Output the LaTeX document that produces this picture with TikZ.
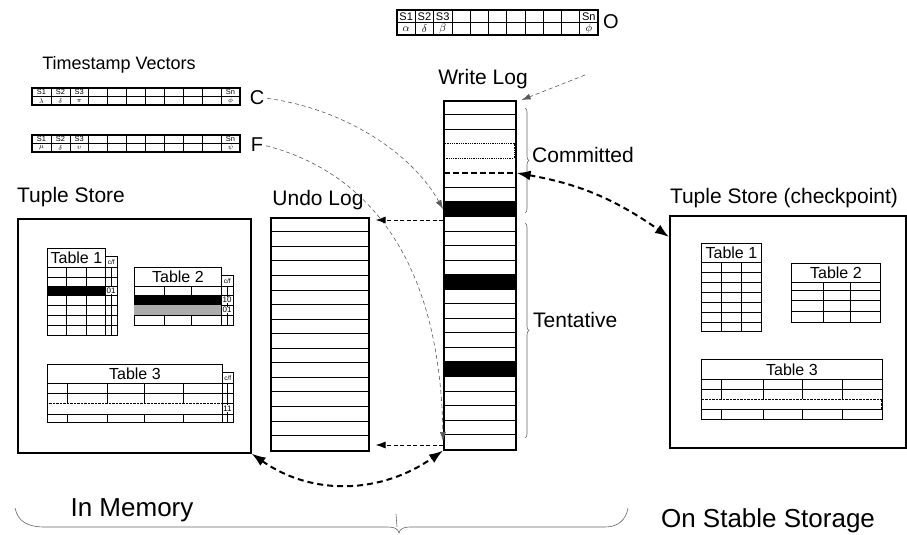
\documentclass[tikz,border=0pt]{standalone}
\usepackage{fontspec}
\setmainfont{Liberation Sans}
\usetikzlibrary{arrows.meta,decorations.pathreplacing}

\newcommand\fs[1]{\fontsize{#1}{#1}\selectfont}

\tikzset{
  box frame/.style={draw, line width=1.6pt, inner sep=0pt},
  grid line/.style={line width=0.6pt},
  tab frame/.style={draw, line width=0.8pt},
  tab head/.style={draw, line width=0.8pt, inner sep=0pt, anchor=north west, font=\fs{16}},
  cf head/.style={draw, line width=0.6pt, inner sep=0pt, anchor=north west, font=\fs{6.5}},
  cf bit/.style={inner sep=0.3pt, fill=white, font=\fs{8}},
  title/.style={inner sep=0pt, font=\fs{21}},
  big title/.style={inner sep=0pt, font=\fs{26}},
  vec name/.style={inner sep=0pt, font=\fs{20}},
  thin link/.style={gray!70!black, line width=0.6pt, dash pattern=on 4pt off 3pt, -{Latex[length=9pt,width=6pt]}},
  copy link/.style={line width=0.9pt, dash pattern=on 4pt off 2.5pt, -{Latex[length=10pt,width=7pt]}, shorten >=6pt},
  swap link/.style={line width=2pt, dash pattern=on 6pt off 4pt, {Latex[length=14pt,width=10pt]}-{Latex[length=14pt,width=10pt]}},
  brace line/.style={gray!80!black, line width=0.6pt},
}

% one timestamp vector: name, x, y, width, height, four entries
\newcommand\tsvec[9]{%
  \pgfmathsetmacro\vfs{0.45*#5-0.2}
  \draw[line width=1.4pt] (#2,#3) rectangle ++(#4,#5);
  \draw[grid line] (#2,#3+#5/2) -- ++(#4,0);
  \foreach \i in {1,...,10}
    \draw[grid line] ({#2+\i*#4/11},#3) -- ++(0,#5);
  \foreach \s/\g [count=\i] in {S1/#6,S2/#7,S3/#8,Sn/#9} {
    \pgfmathsetmacro\col{\i<4 ? \i : 11}
    \node[inner sep=0pt, font=\fs{\vfs}] (#1s\i) at ({#2+(\col-0.5)*#4/11},{#3+#5/4}) {\s};
    \node[inner sep=0pt, font=\fs{\vfs}] (#1g\i) at ({#2+(\col-0.5)*#4/11},{#3+3*#5/4+0.4}) {$\g$};
  }
}

% table body: x left, x right, y top, y bottom, row lines, column lines
\newcommand\tabbody[6]{%
  \draw[tab frame] (#1,#3) rectangle (#2,#4);
  \foreach \y in {#5} \draw[grid line] (#1,\y) -- (#2,\y);
  \foreach \x in {#6} \draw[grid line] (\x,#3) -- (\x,#4);
}

\begin{document}
\begin{tikzpicture}[x=1pt,y=-1pt]
\useasboundingbox (0,0) rectangle (907,535);

% timestamp vectors
\tsvec{ov}{397}{10}{201}{25}{\alpha}{\delta}{\beta}{\phi}
\node[vec name] (labO) at (611,22) {O};
\node[inner sep=0pt, font=\fs{18}] (tsv) at (119,65) {Timestamp Vectors};
\tsvec{cv}{32}{88}{208}{17}{\lambda}{\delta}{\pi}{\phi}
\node[vec name] (labC) at (257,98) {C};
\tsvec{fv}{32}{135}{208}{17}{\mu}{\delta}{\upsilon}{\psi}
\node[vec name] (labF) at (257,145) {F};

% tuple store in memory
\node[title] (mtstitle) at (71,197) {Tuple Store};
\node[box frame, minimum width=233, minimum height=234, anchor=north west] (mts) at (17,218) {};

\node[tab head, minimum width=58, minimum height=19] (mt1) at (47,248) {Table 1};
\node[cf head, minimum width=12, minimum height=11] (mt1cf) at (105,256) {c/f};
\tabbody{47}{105}{267}{335}{277,286,295,305,315,325}{66,86}
\tabbody{105}{117}{267}{335}{277,286,295,305,315,325}{111}
\fill (47,286) rectangle (105,295);
\node[cf bit] (mt1b) at (111,290.5) {01};

\node[tab head, minimum width=87, minimum height=19] (mt2) at (134,267) {Table 2};
\node[cf head, minimum width=12, minimum height=11] (mt2cf) at (221,275) {c/f};
\tabbody{134}{221}{286}{325}{295,305,315}{164,191}
\tabbody{221}{233}{286}{325}{295,305,315}{227}
\fill (134,295) rectangle (221,305);
\fill[gray!65] (134,305) rectangle (221,315);
\node[cf bit] (mt2a) at (227,300) {10};
\node[cf bit] (mt2b) at (227,310) {01};

\node[tab head, minimum width=175, minimum height=19] (mt3) at (47,364) {Table 3};
\node[cf head, minimum width=11, minimum height=11] (mt3cf) at (222,372) {c/f};
\tabbody{47}{222}{383}{422}{393,403,414}{67,107,144,183}
\tabbody{222}{233}{383}{422}{393,403,414}{227.5}
\draw[densely dotted, fill=white] (47.5,403) rectangle (222,414);
\node[cf bit] (mt3b) at (227.5,408.5) {11};

% undo log
\node[title] (ultitle) at (318,200) {Undo Log};
\node[box frame, minimum width=98, minimum height=233, anchor=north west] (ulog) at (270,217) {};
\foreach \k in {1,...,15}
  \draw[grid line] (270,217+\k*233/16) -- (368,217+\k*233/16);

% write log
\node[title] (wltitle) at (483,79) {Write Log};
\node[box frame, minimum width=72, minimum height=349, anchor=north west] (wlog) at (443,100) {};
\foreach \k in {1,2,6,7,...,23}
  \draw[grid line] (443,100+\k*349/24) -- (515,100+\k*349/24);
\draw[densely dotted, line width=0.8pt] (444,100+3*349/24) rectangle (514,100+4*349/24);
\draw[line width=1.6pt, dash pattern=on 6pt off 3pt] (444,100+5*349/24) -- (514,100+5*349/24);
\foreach \k in {7,12,18}
  \fill (443,100+\k*349/24) rectangle (515,100+\k*349/24+349/24);

\draw[brace line, decorate, decoration={brace, amplitude=4pt}] (525,108) -- (525,213);
\node[title, anchor=west] (comm) at (532,155) {Committed};
\draw[brace line, decorate, decoration={brace, amplitude=4pt}] (525,223) -- (525,438);
\node[title, anchor=west] (tent) at (533,320) {Tentative};

% tuple store on disk
\node[title] (ctstitle) at (784,198) {Tuple Store (checkpoint)};
\node[box frame, minimum width=236, minimum height=232, anchor=north west] (cts) at (669,215) {};

\node[tab head, minimum width=60, minimum height=19] (ct1) at (701,243) {Table 1};
\tabbody{701}{761}{262}{331}{272,282,292,302,312,322}{721,741}
\node[tab head, minimum width=89, minimum height=19] (ct2) at (791,263) {Table 2};
\tabbody{791}{880}{282}{322}{290,300,311}{823,850}
\node[tab head, minimum width=181, minimum height=20] (ct3) at (701,359) {Table 3};
\tabbody{701}{882}{379}{419}{389,399,409}{721,763,802,842}
\draw[densely dotted, fill=white] (701.5,399) rectangle (881.5,409);

% connectors
\coordinate (ofeed) at (585,75);
\draw[thin link] (ofeed) -- ([xshift=5pt]wlog.north east);
\draw[thin link, shorten <=3pt] (labC.east) .. controls (340,108) and (410,150) .. (wlog.west |- 0,209);
\draw[thin link, shorten <=3pt] (labF.east) .. controls (360,170) and (440,250) .. (wlog.west |- 0,441);
\draw[copy link] (wlog.west |- 0,220) -- (ulog.east |- 0,220);
\draw[copy link] (wlog.west |- 0,445) -- (ulog.east |- 0,445);
\draw[swap link] (wlog.east |- 0,173) to[out=-10,in=145] (cts.west |- 0,237);
\draw[swap link] (mts.south east) to[out=-35,in=-145] (wlog.south west);

% memory / storage split
\draw[brace line] (15,508) .. controls (18,522) and (28,527) .. (45,527) -- (388,527)
  .. controls (395,527) and (398,529) .. (399,533) .. controls (400,529) and (403,527) .. (410,527)
  -- (605,527) .. controls (618,527) and (626,520) .. (628,508);
\draw[brace line] (396,514) -- (397,527);
\node[big title] (inmem) at (132,510) {In Memory};
\node[big title] (onstable) at (768,521) {On Stable Storage};
\end{tikzpicture}
\end{document}
